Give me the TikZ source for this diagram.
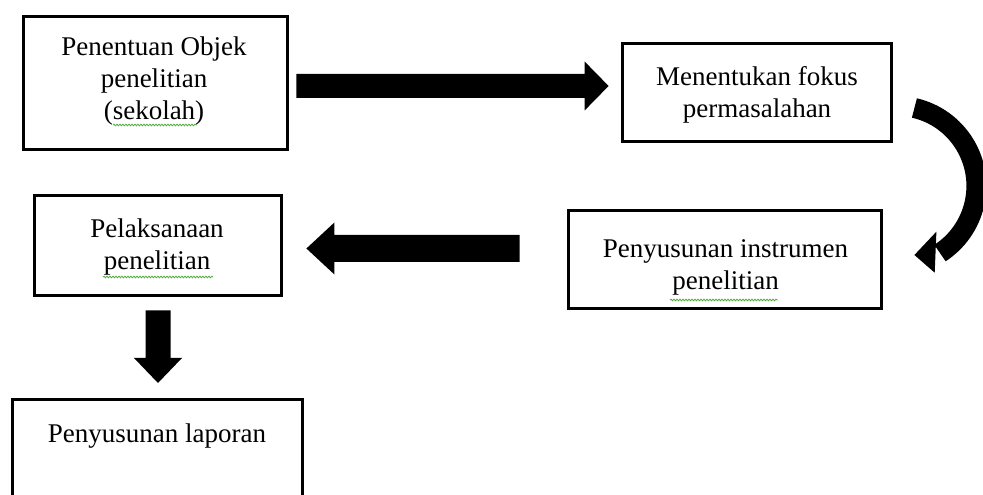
\documentclass[tikz,border=0pt]{standalone}
\usepackage{fontspec}
\setmainfont{Liberation Serif}
\usetikzlibrary{calc,decorations.pathmorphing}
\definecolor{spell}{RGB}{80,170,60}
\begin{document}
\begin{tikzpicture}[x=1pt,y=1pt,
  box/.style={draw=black, line width=2.8pt, fill=white, inner sep=0pt},
  txt/.style={inner sep=0pt, align=center, font=\fontsize{27}{32}\selectfont},
  blockarrow/.style={fill=black},
  squiggle/.style={draw=spell, line width=0.8pt, decorate,
    decoration={snake, amplitude=0.8pt, segment length=3pt}}]
\useasboundingbox (0,0) rectangle (983,495);

% boxes
\node[box, minimum width=264, minimum height=133] (b1) at (155.5,412) {};
\node[box, minimum width=269, minimum height=98]  (b2) at (757,402.5) {};
\node[box, minimum width=313, minimum height=98]  (b3) at (725,235.5) {};
\node[box, minimum width=247, minimum height=100] (b4) at (158,249.5) {};
\node[box, minimum width=290, minimum height=140, anchor=north] (b5) at (157.5,96.5) {};

% texts
\node[txt] (t1) at (154,414.4) {Penentuan Objek\\penelitian\\(sekolah)};
\node[txt] (t2) at (757,399.7) {Menentukan fokus\\permasalahan};
\node[txt] (t3) at (725.5,227.2) {Penyusunan instrumen\\penelitian};
\node[txt] (t4) at (157,247.7) {Pelaksanaan\\penelitian};
\node[txt, anchor=base] (t5) at (157,52) {Penyusunan laporan};

% spell-check underlines
\draw[squiggle] (113,370) -- (197,370);
\draw[squiggle] (103,218) -- (213,218);
\draw[squiggle] (670,195) -- (778,195);

% connector end points
\coordinate (a1s) at ($(b1.east)+(7.5,-3)$);
\coordinate (a1e) at ($(b2.west)+(-12.5,6.5)$);
\coordinate (a2s) at ($(b3.west)+(-47.5,11)$);
\coordinate (a2e) at ($(b4.east)+(23.5,-3)$);
\coordinate (a3s) at ($(b4.south)+(0,-13.5)$);
\coordinate (a3e) at ($(b5.north)+(0.5,15.5)$);
\coordinate (a4s) at ($(b2.east)+(21.5,-15.5)$);
\coordinate (a4e) at ($(b3.east)+(31.5,4.5)$);

% b1 -> b2
\fill[blockarrow] ($(a1s)+(0,12)$) -- ($(a1e)+(-24,12)$) -- ($(a1e)+(-24,24.5)$)
  -- (a1e) -- ($(a1e)+(-24,-24.5)$) -- ($(a1e)+(-24,-12)$) -- ($(a1s)+(0,-12)$) -- cycle;

% b2 -> b3 (curved)
\draw[line width=20pt] (a4s) arc[start angle=77, end angle=-57, radius=80];
\fill[blockarrow] (a4e) -- ++(22,23.3) -- ++(-1.7,-41) -- cycle;

% b3 -> b4
\fill[blockarrow] ($(a2s)+(0,13.5)$) -- ($(a2e)+(28,13.5)$) -- ($(a2e)+(28,26)$)
  -- (a2e) -- ($(a2e)+(28,-26)$) -- ($(a2e)+(28,-13.5)$) -- ($(a2s)+(0,-13.5)$) -- cycle;

% b4 -> b5
\fill[blockarrow] ($(a3s)+(-12.5,0)$) -- ($(a3e)+(-12.5,25)$) -- ($(a3e)+(-24,25)$)
  -- (a3e) -- ($(a3e)+(24,25)$) -- ($(a3e)+(12.5,25)$) -- ($(a3s)+(12.5,0)$) -- cycle;
\end{tikzpicture}
\end{document}
